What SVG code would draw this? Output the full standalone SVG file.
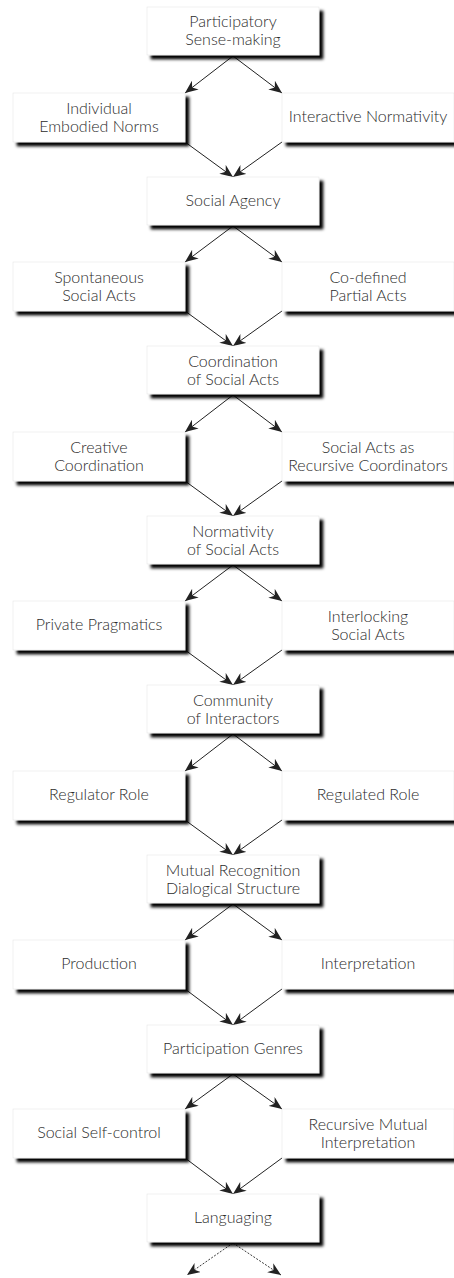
<svg xmlns="http://www.w3.org/2000/svg" width="454" height="1278" viewBox="0 0 454 1278">
<style>
.box{fill:#fff;stroke:#e6e6e6;stroke-width:0.6;filter:url(#sh)}
.t{font-family:Lato,"Open Sans","Liberation Sans",sans-serif;font-weight:300;font-size:16px;fill:#2b2b2b;text-anchor:middle}
.c{stroke:#222;stroke-width:1;fill:none;marker-end:url(#ah)}
.d{stroke:#222;stroke-width:0.9;fill:none;stroke-dasharray:2 1.5;marker-end:url(#ah)}
</style>
<defs>
<filter id="sh" x="-10%" y="-20%" width="130%" height="160%">
<feGaussianBlur in="SourceAlpha" stdDeviation="1.4"/>
<feOffset dx="3.5" dy="3.5"/>
<feComponentTransfer><feFuncA type="linear" slope="1"/></feComponentTransfer>
<feMerge><feMergeNode/><feMergeNode in="SourceGraphic"/></feMerge>
</filter>
<marker id="ah" viewBox="0 0 13 11" refX="13" refY="5.5" markerWidth="13" markerHeight="11" markerUnits="userSpaceOnUse" orient="auto">
<path d="M0,0 L13,5.5 L0,11 L4,5.5 Z" fill="#222"/>
</marker>
</defs>
<g id="connectors">
<path class="c" d="M233,56 L185,93"/><path class="c" d="M233,56 L282,93"/>
<path class="c" d="M185,142 L233,177"/><path class="c" d="M282,142 L233,177"/>
<path class="c" d="M233,226 L185,262"/><path class="c" d="M233,226 L282,262"/>
<path class="c" d="M185,311 L233,346"/><path class="c" d="M282,311 L233,346"/>
<path class="c" d="M233,395 L185,432"/><path class="c" d="M233,395 L282,432"/>
<path class="c" d="M185,481 L233,516"/><path class="c" d="M282,481 L233,516"/>
<path class="c" d="M233,565 L185,601"/><path class="c" d="M233,565 L282,601"/>
<path class="c" d="M185,650 L233,685"/><path class="c" d="M282,650 L233,685"/>
<path class="c" d="M233,734 L185,771"/><path class="c" d="M233,734 L282,771"/>
<path class="c" d="M185,820 L233,855"/><path class="c" d="M282,820 L233,855"/>
<path class="c" d="M233,904 L185,940"/><path class="c" d="M233,904 L282,940"/>
<path class="c" d="M185,989 L233,1025"/><path class="c" d="M282,989 L233,1025"/>
<path class="c" d="M233,1074 L185,1109"/><path class="c" d="M233,1074 L282,1109"/>
<path class="c" d="M185,1158 L233,1194"/><path class="c" d="M282,1158 L233,1194"/>
<path class="d" d="M233,1243 L187,1275"/><path class="d" d="M233,1243 L281,1275"/>
</g>
<g id="n-participatory"><rect class="box" x="147" y="7" width="172" height="48"/><text class="t" x="233" y="27">Participatory</text><text class="t" x="233" y="45">Sense-making</text></g>
<g id="n-individual"><rect class="box" x="13" y="93" width="172" height="49"/><text class="t" x="99" y="114">Individual</text><text class="t" x="99" y="132">Embodied Norms</text></g>
<g id="n-interactive"><rect class="box" x="282" y="93" width="172" height="49"/><text class="t" x="368" y="122">Interactive Normativity</text></g>
<g id="n-agency"><rect class="box" x="147" y="177" width="172" height="48"/><text class="t" x="233" y="206">Social Agency</text></g>
<g id="n-spontaneous"><rect class="box" x="13" y="262" width="172" height="49"/><text class="t" x="99" y="283">Spontaneous</text><text class="t" x="99" y="301">Social Acts</text></g>
<g id="n-codefined"><rect class="box" x="282" y="262" width="172" height="49"/><text class="t" x="368" y="283">Co-defined</text><text class="t" x="368" y="301">Partial Acts</text></g>
<g id="n-coordination"><rect class="box" x="147" y="346" width="172" height="48"/><text class="t" x="233" y="367">Coordination</text><text class="t" x="233" y="385">of Social Acts</text></g>
<g id="n-creative"><rect class="box" x="13" y="432" width="172" height="49"/><text class="t" x="99" y="453">Creative</text><text class="t" x="99" y="471">Coordination</text></g>
<g id="n-recursive-coord"><rect class="box" x="282" y="432" width="172" height="49"/><text class="t" x="368" y="453">Social Acts as</text><text class="t" x="368" y="471">Recursive Coordinators</text></g>
<g id="n-normativity"><rect class="box" x="147" y="516" width="172" height="48"/><text class="t" x="233" y="537">Normativity</text><text class="t" x="233" y="555">of Social Acts</text></g>
<g id="n-private"><rect class="box" x="13" y="601" width="172" height="49"/><text class="t" x="99" y="630">Private Pragmatics</text></g>
<g id="n-interlocking"><rect class="box" x="282" y="601" width="172" height="49"/><text class="t" x="368" y="622">Interlocking</text><text class="t" x="368" y="640">Social Acts</text></g>
<g id="n-community"><rect class="box" x="147" y="685" width="172" height="48"/><text class="t" x="233" y="706">Community</text><text class="t" x="233" y="724">of Interactors</text></g>
<g id="n-regulator"><rect class="box" x="13" y="771" width="172" height="49"/><text class="t" x="99" y="800">Regulator Role</text></g>
<g id="n-regulated"><rect class="box" x="282" y="771" width="172" height="49"/><text class="t" x="368" y="800">Regulated Role</text></g>
<g id="n-mutual"><rect class="box" x="147" y="855" width="172" height="48"/><text class="t" x="233" y="876">Mutual Recognition</text><text class="t" x="233" y="894">Dialogical Structure</text></g>
<g id="n-production"><rect class="box" x="13" y="940" width="172" height="49"/><text class="t" x="99" y="969">Production</text></g>
<g id="n-interpretation"><rect class="box" x="282" y="940" width="172" height="49"/><text class="t" x="368" y="969">Interpretation</text></g>
<g id="n-genres"><rect class="box" x="147" y="1025" width="172" height="48"/><text class="t" x="233" y="1054">Participation Genres</text></g>
<g id="n-selfcontrol"><rect class="box" x="13" y="1109" width="172" height="49"/><text class="t" x="99" y="1138">Social Self-control</text></g>
<g id="n-recursive-mutual"><rect class="box" x="282" y="1109" width="172" height="49"/><text class="t" x="368" y="1130">Recursive Mutual</text><text class="t" x="368" y="1148">Interpretation</text></g>
<g id="n-languaging"><rect class="box" x="147" y="1194" width="172" height="48"/><text class="t" x="233" y="1223">Languaging</text></g>
</svg>
